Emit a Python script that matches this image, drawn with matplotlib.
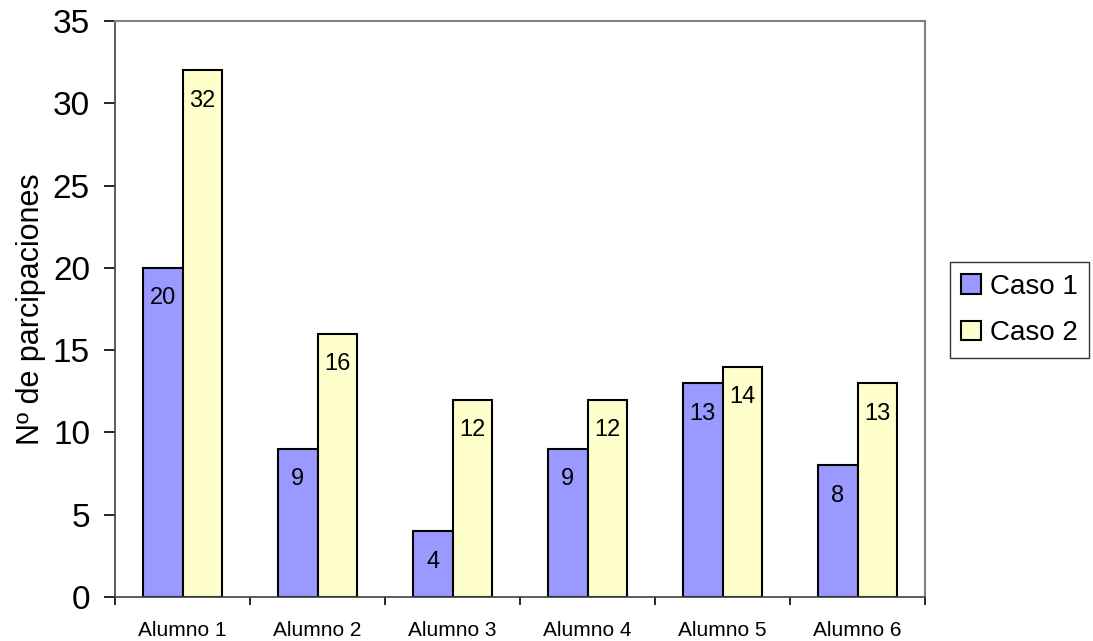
import numpy as np
import matplotlib.pyplot as plt

plt.rcParams.update({
    "font.family": "Liberation Sans",
    "figure.dpi": 100,
})

# ── data ──────────────────────────────────────────────────────────────────────
alumnos = ["Alumno 1", "Alumno 2", "Alumno 3", "Alumno 4", "Alumno 5", "Alumno 6"]
caso1 = [20, 9, 4, 9, 13, 8]
caso2 = [32, 16, 12, 12, 14, 13]
y_ticks = [0, 5, 10, 15, 20, 25, 30, 35]

COLORS = {"caso1": "#9999FF", "caso2": "#FFFFCC"}

# ── figure ────────────────────────────────────────────────────────────────────
fig = plt.figure(figsize=(10.93, 6.41))
ax = fig.add_axes([115 / 1093, 1 - 597 / 641, 810 / 1093, 576 / 641])

x = np.arange(len(alumnos))
w = 0.295
b1 = ax.bar(x - w / 2, caso1, w, color=COLORS["caso1"], edgecolor="black",
            linewidth=1.5, label="Caso 1", zorder=2)
b2 = ax.bar(x + w / 2, caso2, w, color=COLORS["caso2"], edgecolor="black",
            linewidth=1.5, label="Caso 2", zorder=2)

for bars in (b1, b2):
    for rect in bars:
        h = rect.get_height()
        ax.annotate(f"{h:g}", (rect.get_x() + rect.get_width() / 2, h),
                    xytext=(0, -22), textcoords="offset points",
                    ha="center", va="center", fontsize=17)

ax.set_xlim(-0.5, len(alumnos) - 0.5)
ax.set_ylim(0, 35)
ax.set_yticks(y_ticks)
ax.tick_params(axis="y", labelsize=24, length=8, width=1.2, pad=10)
ax.set_xticks(x)
ax.set_xticklabels(alumnos, fontsize=15)
ax.set_xticks(np.arange(len(alumnos) + 1) - 0.5, minor=True)
ax.tick_params(axis="x", which="major", length=0, pad=17)
ax.tick_params(axis="x", which="minor", length=6, width=1.2)

ax.set_ylabel("Nº de parcipaciones", fontsize=22, labelpad=5)

for side in ("top", "right"):
    ax.spines[side].set_color("#808080")
    ax.spines[side].set_linewidth(1.5)
for side in ("left", "bottom"):
    ax.spines[side].set_color("#404040")
    ax.spines[side].set_linewidth(1.2)

leg = fig.legend(loc="center left", bbox_to_anchor=(950 / 1093, 1 - 310 / 641),
                 fontsize=20, frameon=True, fancybox=False, edgecolor="black",
                 handlelength=0.7, handleheight=0.7, handletextpad=0.35,
                 borderpad=0.4, labelspacing=0.75, borderaxespad=0)
leg.get_frame().set_linewidth(1.0)

fig.savefig("out.png", dpi=100)
